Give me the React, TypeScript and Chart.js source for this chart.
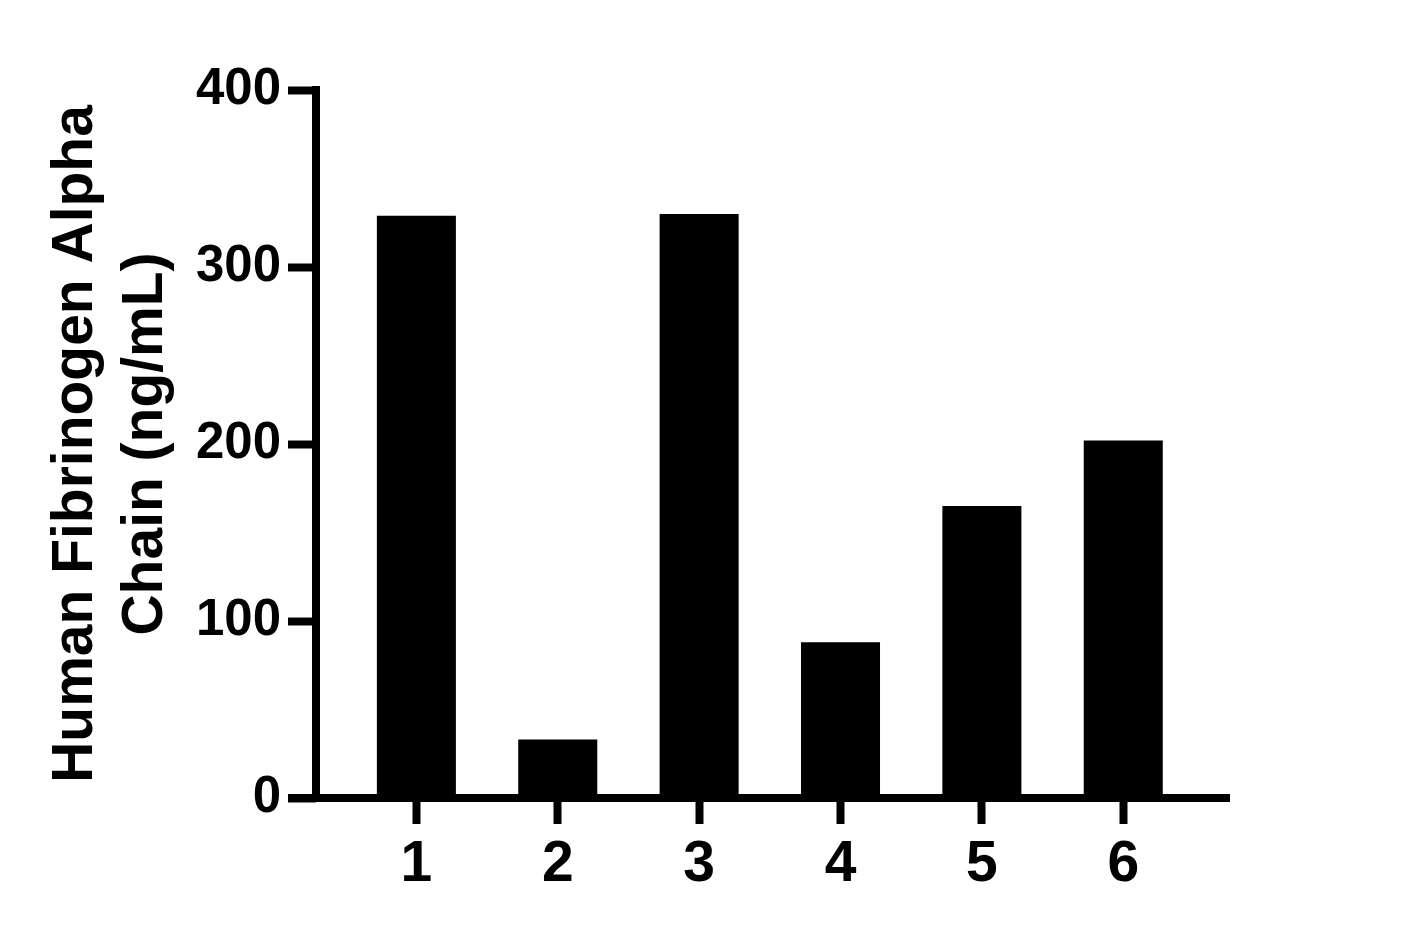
import React, { useEffect, useRef } from "react";
import { Chart, registerables } from "chart.js";

Chart.register(...registerables);

const categories = [1, 2, 3, 4, 5, 6];
const values = [329, 33, 330, 88, 165, 202];
const yTicks = [0, 100, 200, 300, 400];
const yTitle = ["Human Fibrinogen Alpha", "Chain (ng/mL)"];

const FONT = "'Liberation Sans', Arial, sans-serif";

// thick black axes drawn on top of the bars (x axis runs out under the y ticks)
const axisLines = {
  id: "axisLines",
  afterDatasetsDraw(chart: any) {
    const { ctx, chartArea, scales } = chart;
    const y0 = scales.y.getPixelForValue(0);
    ctx.save();
    ctx.strokeStyle = "#000";
    ctx.lineWidth = 8;
    ctx.lineCap = "butt";
    ctx.beginPath();
    ctx.moveTo(chartArea.left, chartArea.top - 4);
    ctx.lineTo(chartArea.left, y0 + 4);
    ctx.moveTo(chartArea.left - 28, y0);
    ctx.lineTo(chartArea.right, y0);
    ctx.stroke();
    ctx.restore();
  },
};

const App = () => {
  const chartRef = useRef<HTMLCanvasElement | null>(null);

  useEffect(() => {
    const ctx = chartRef.current!.getContext("2d")!;
    const myChart = new Chart(ctx, {
      type: "bar",
      data: {
        datasets: [
          {
            data: categories.map((c, i) => ({ x: c, y: values[i] })),
            backgroundColor: "#000",
            borderWidth: 0,
            barPercentage: 0.559,
            categoryPercentage: 1,
          },
        ],
      },
      options: {
        responsive: true,
        maintainAspectRatio: false,
        animation: false,
        layout: { padding: { top: 90, right: 176, bottom: 0, left: 0 } },
        plugins: {
          legend: { display: false },
          tooltip: { enabled: false },
        },
        scales: {
          x: {
            type: "linear",
            min: 0.29,
            max: 6.755,
            offset: false,
            afterBuildTicks: (s: any) => {
              s.ticks = categories.map((v) => ({ value: v }));
            },
            afterFit: (s: any) => {
              s.height = 140;
            },
            border: { display: false },
            grid: {
              display: true,
              offset: false,
              drawOnChartArea: false,
              drawTicks: true,
              tickLength: 26,
              tickWidth: 8,
              tickColor: "#000",
            },
            ticks: {
              color: "#000",
              font: { family: FONT, size: 57, weight: "bold" },
              padding: 7,
              maxRotation: 0,
              autoSkip: false,
              callback: (v: any) => String(v),
            },
          },
          y: {
            min: 0,
            max: 400,
            afterBuildTicks: (s: any) => {
              s.ticks = yTicks.map((v) => ({ value: v }));
            },
            afterFit: (s: any) => {
              s.width = 316;
            },
            border: { display: false },
            grid: {
              display: true,
              drawOnChartArea: false,
              drawTicks: true,
              tickLength: 28,
              tickWidth: 8,
              tickColor: "#000",
            },
            ticks: {
              color: "#000",
              font: { family: FONT, size: 51, weight: "bold" },
              padding: 7,
            },
            title: {
              display: true,
              text: yTitle,
              color: "#000",
              font: { family: FONT, size: 57, weight: "bold", lineHeight: 1.22 },
              padding: { top: 42, bottom: 0 },
            },
          },
        },
      },
      plugins: [axisLines],
    } as any);

    return () => {
      myChart.destroy();
    };
  }, []);

  return (
    <div style={{ position: "absolute", left: 0, top: 0, width: 1406, height: 938, background: "#fff" }}>
      <canvas ref={chartRef}></canvas>
    </div>
  );
};

export default App;
